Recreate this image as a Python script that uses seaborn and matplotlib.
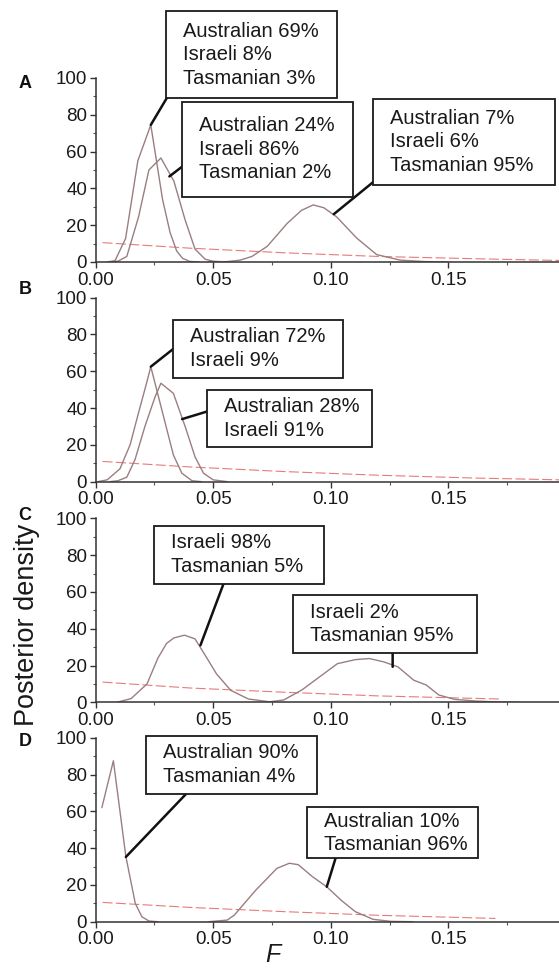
import matplotlib
matplotlib.use('Agg')
import matplotlib.pyplot as plt
import matplotlib.ticker as mticker
from matplotlib.patches import Rectangle
import seaborn as sns

sns.set_style('ticks')
plt.rcParams['font.family'] = ['Liberation Sans', 'DejaVu Sans']

# --- data (F vs posterior density) ---
# panel A
a1_x = [0.005, 0.0083, 0.0128, 0.018, 0.0235, 0.0285, 0.0317, 0.0345, 0.037, 0.040, 0.044]
a1_y = [0, 0.7, 12.8, 55, 74.5, 34, 16, 6, 2, 0.3, 0]
a2_x = [0.007, 0.0097, 0.0133, 0.0183, 0.0227, 0.0278, 0.0333, 0.0381, 0.0423, 0.0466, 0.050, 0.056]
a2_y = [0, 0.5, 3, 24.5, 50, 56.5, 44, 22.8, 7, 1.5, 0.4, 0]
a3_x = [0.048, 0.056, 0.0615, 0.0665, 0.073, 0.0815, 0.0875, 0.0925, 0.097, 0.1025, 0.111,
        0.1195, 0.1295, 0.140, 0.150]
a3_y = [0, 0.2, 1, 3, 8.5, 21, 28, 31, 29.5, 24.5, 13, 4, 1, 0.2, 0]
a_prior_x = [0.003, 0.04, 0.08, 0.12, 0.16, 0.197]
a_prior_y = [10.5, 7.5, 5.0, 3.0, 1.8, 0.8]

# panel B
b1_x = [0.001, 0.005, 0.0104, 0.0147, 0.0182, 0.0218, 0.0235, 0.028, 0.0296, 0.0331, 0.0367, 0.041, 0.045]
b1_y = [0, 1, 7, 20, 37, 54, 62.5, 40, 32, 14.5, 4.6, 0.5, 0]
b2_x = [0.006, 0.0095, 0.0133, 0.0168, 0.021, 0.0253, 0.0278, 0.0331, 0.0381, 0.0423, 0.0459, 0.050, 0.056]
b2_y = [0, 0.5, 2.4, 12, 30, 46, 53.5, 48, 30, 13.5, 4.6, 1, 0]
b_prior_x = [0.003, 0.04, 0.08, 0.12, 0.16, 0.197]
b_prior_y = [11, 8, 5.5, 3.5, 2.0, 1.0]

# panel C
c1_x = [0.009, 0.0151, 0.0219, 0.0265, 0.0302, 0.0333, 0.0378, 0.0423, 0.0469, 0.0514, 0.0575, 0.065, 0.074]
c1_y = [0, 2, 10, 24, 32, 35, 36.5, 34.5, 25, 15.5, 6.5, 1.8, 0.3]
c2_x = [0.074, 0.080, 0.0877, 0.0953, 0.1028, 0.1104, 0.1164, 0.1225, 0.1285, 0.1353, 0.1406,
        0.1459, 0.1527, 0.1618, 0.171, 0.18]
c2_y = [0.3, 1.3, 6.7, 13.9, 21, 23.2, 23.8, 22, 19.3, 12, 9.4, 4, 1.6, 0.7, 0.2, 0]
c_prior_x = [0.003, 0.04, 0.08, 0.12, 0.172]
c_prior_y = [11, 7.8, 5.5, 3.5, 1.8]

# panel D
d1_x = [0.0027, 0.0076, 0.0129, 0.0169, 0.0197, 0.0227, 0.0265]
d1_y = [62, 87.5, 35.5, 10, 2.7, 0.4, 0]
d2_x = [0.048, 0.056, 0.059, 0.068, 0.0771, 0.0824, 0.0862, 0.0922, 0.0983, 0.1043, 0.1104, 0.118, 0.1255, 0.135]
d2_y = [0, 0.9, 3.6, 17, 29, 31.8, 31, 24.5, 19, 11.8, 5.5, 1.3, 0.2, 0]
d_prior_x = [0.003, 0.04, 0.08, 0.12, 0.17]
d_prior_y = [10.5, 7.8, 5.5, 3.5, 1.8]

panel_labels = ['A', 'B', 'C', 'D']
x_ticks = [0.0, 0.05, 0.10, 0.15]
y_ticks = [0, 20, 40, 60, 80, 100]

# box texts, box extents (x0, x1, y_bottom, y_top) and leader line (start -> curve point)
notes = {
    'A': [('Australian 69%\nIsraeli 8%\nTasmanian 3%', (0.0300, 0.1025, 89.1, 136.2), (0.0303, 89.1), (0.0235, 74.5)),
          ('Australian 24%\nIsraeli 86%\nTasmanian 2%', (0.0367, 0.1096, 35.4, 86.9), (0.0367, 51.7), (0.0314, 46.5)),
          ('Australian 7%\nIsraeli 6%\nTasmanian 95%', (0.1181, 0.1951, 42.1, 88.7), (0.1181, 43.5), (0.1013, 26.0))],
    'B': [('Australian 72%\nIsraeli 9%', (0.0328, 0.1054, 56.6, 88.0), (0.0328, 71.9), (0.0235, 62.5)),
          ('Australian 28%\nIsraeli 91%', (0.0476, 0.1176, 19.1, 49.6), (0.0476, 38.2), (0.0368, 34.0))],
    'C': [('Israeli 98%\nTasmanian 5%', (0.0249, 0.0971, 64.4, 96.1), (0.0544, 64.4), (0.0446, 31.0)),
          ('Israeli 2%\nTasmanian 95%', (0.0839, 0.1621, 26.9, 58.5), (0.1263, 26.9), (0.1263, 19.3))],
    'D': [('Australian 90%\nTasmanian 4%', (0.0216, 0.0942, 69.6, 101.2), (0.0386, 69.6), (0.0129, 35.2)),
          ('Australian 10%\nTasmanian 96%', (0.0900, 0.1625, 34.4, 62.3), (0.1020, 34.4), (0.0983, 19.0))],
}

curves = {
    'A': [(a1_x, a1_y), (a2_x, a2_y), (a3_x, a3_y)],
    'B': [(b1_x, b1_y), (b2_x, b2_y)],
    'C': [(c1_x, c1_y), (c2_x, c2_y)],
    'D': [(d1_x, d1_y), (d2_x, d2_y)],
}
priors = {
    'A': (a_prior_x, a_prior_y),
    'B': (b_prior_x, b_prior_y),
    'C': (c_prior_x, c_prior_y),
    'D': (d_prior_x, d_prior_y),
}

curve_col = '#9a7e80'
prior_col = '#e87a7a'

fig = plt.figure(figsize=(5.59, 9.76), dpi=100)
left = 95.5 / 559
width = 1 - left
bottoms = [0.7316, 0.5065, 0.2804, 0.0556]
label_y = [84, 289, 516, 742]

for i, p in enumerate(panel_labels):
    ax = fig.add_axes([left, bottoms[i], width, 0.1885])
    px, py = priors[p]
    sns.lineplot(x=px, y=py, ax=ax, color=prior_col, lw=0.8, dashes=False,
                 estimator=None, sort=False)
    ax.lines[-1].set_dashes([9, 3])
    for cx, cy in curves[p]:
        sns.lineplot(x=cx, y=cy, ax=ax, color=curve_col, lw=1.0, estimator=None, sort=False)

    for txt, (x0, x1, yb, yt), start, end in notes[p]:
        ax.add_patch(Rectangle((x0, yb), x1 - x0, yt - yb, fc='white', ec='#1a1a1a',
                               lw=1.3, clip_on=False, zorder=5))
        ax.text(x0 + 0.0072, (yb + yt) / 2, txt, fontsize=14.5, linespacing=1.3,
                ha='left', va='center', color='#1a1a1a', zorder=6)
        ax.annotate('', xy=end, xytext=start, annotation_clip=False,
                    arrowprops=dict(arrowstyle='-', lw=1.8, color='#111111',
                                    shrinkA=0, shrinkB=0), zorder=4)

    ax.set_xlim(0, 0.197)
    ax.set_ylim(0, 100)
    ax.set_xticks(x_ticks)
    ax.set_yticks(y_ticks)
    ax.xaxis.set_minor_locator(mticker.MultipleLocator(0.025))
    ax.yaxis.set_minor_locator(mticker.MultipleLocator(10))
    ax.xaxis.set_major_formatter(mticker.FormatStrFormatter('%.2f'))
    ax.tick_params(axis='both', which='major', labelsize=13.5, length=4, width=1,
                   direction='out', pad=2, colors='#333333', labelcolor='#1a1a1a')
    ax.tick_params(axis='x', which='major', pad=3)
    ax.tick_params(axis='both', which='minor', length=2.5, width=0.8, colors='#555555')
    for s in ['top', 'right']:
        ax.spines[s].set_visible(False)
    for s in ['left', 'bottom']:
        ax.spines[s].set_color('#333333')
        ax.spines[s].set_linewidth(1.1)
    ax.set_xlabel('')
    ax.set_ylabel('')
    ax.patch.set_alpha(0)

    fig.text(25 / 559, 1 - label_y[i] / 976, p, fontsize=13, fontweight='bold',
             ha='center', va='center', color='#111111')

fig.text(0.048, 0.3597, 'Posterior density', rotation=90, fontsize=19.5,
         ha='center', va='center', color='#1a1a1a')
fig.text(0.488, 1 - 955 / 976, 'F', style='italic', fontsize=18,
         ha='center', va='center', color='#1a1a1a')

plt.savefig('out.png', dpi=100)
